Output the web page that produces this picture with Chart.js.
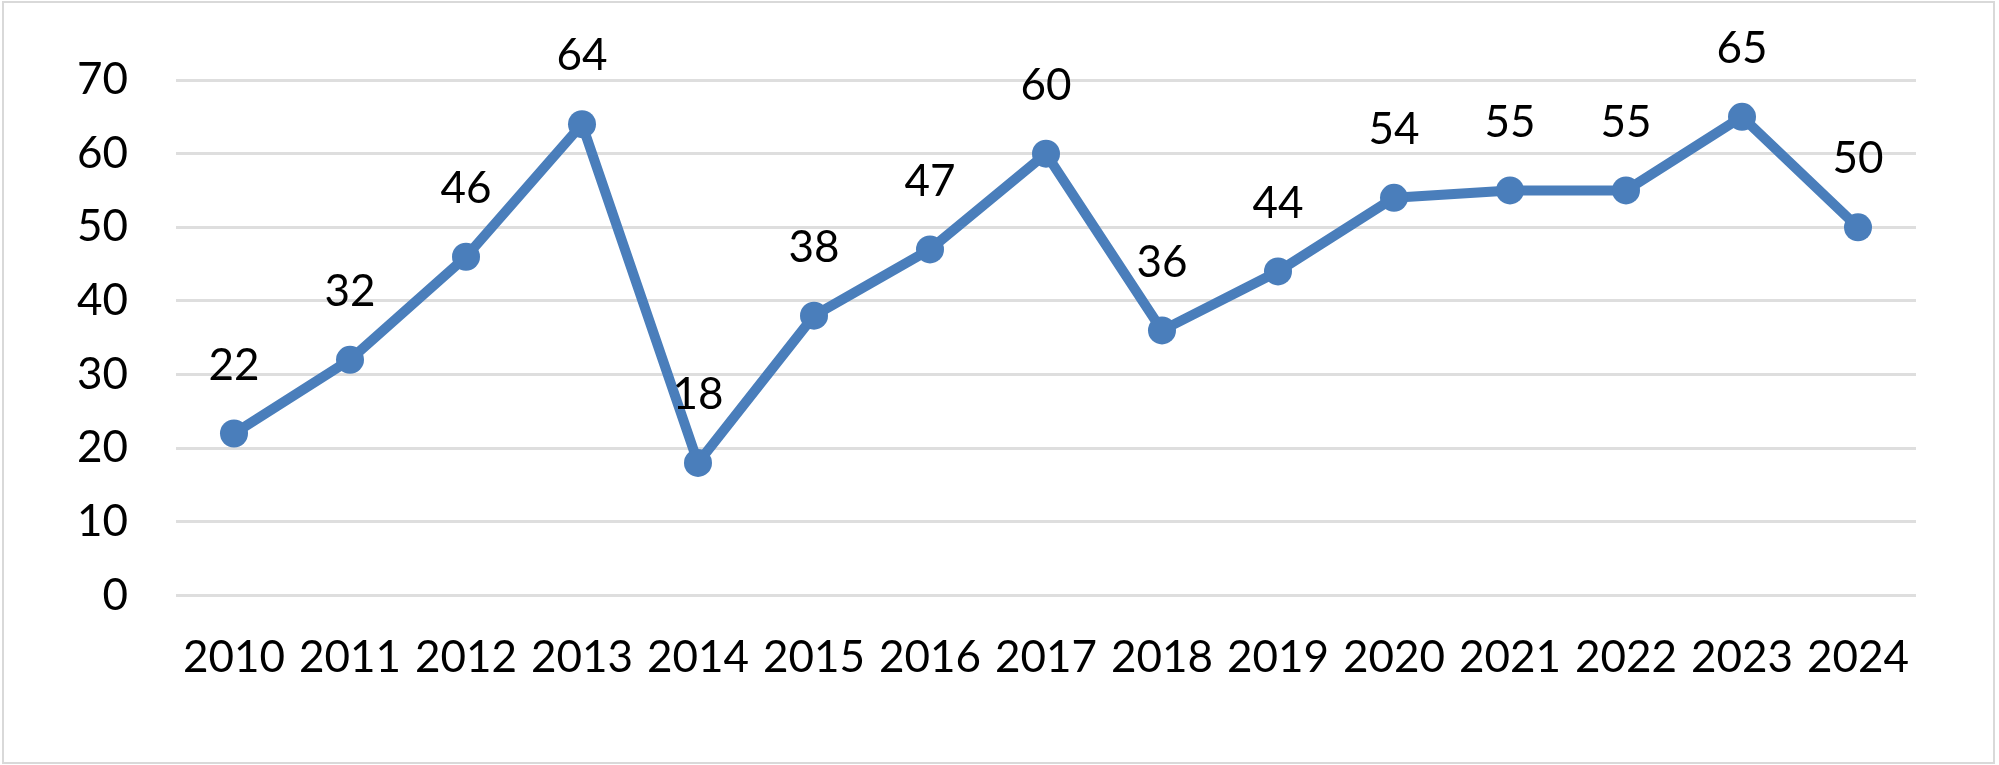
<!DOCTYPE html>
<html>
<head>
<meta charset="utf-8">
<script src="https://cdn.jsdelivr.net/npm/chart.js@4.4.1/dist/chart.umd.min.js"></script>
<style>
  html, body { margin: 0; padding: 0; background: #ffffff; }
  #wrap { width: 1999px; height: 765px; position: relative; }
  canvas { display: block; }
</style>
</head>
<body>
<div id="wrap"><canvas id="c" width="1999" height="765"></canvas></div>
<script>
const categories = ['2010','2011','2012','2013','2014','2015','2016','2017','2018','2019','2020','2021','2022','2023','2024'];
const values = [22, 32, 46, 64, 18, 38, 47, 60, 36, 44, 54, 55, 55, 65, 50];
const yTicks = [0, 10, 20, 30, 40, 50, 60, 70];

const FONT = 'Lato, "Open Sans", sans-serif';
const FONT_SIZE = 44;
const BLUE = '#4a7ebb';

const frame = {
  id: 'frame',
  beforeDraw(chart) {
    const ctx = chart.ctx;
    ctx.save();
    ctx.fillStyle = '#ffffff';
    ctx.fillRect(0, 0, chart.width, chart.height);
    ctx.strokeStyle = '#d9d9d9';
    ctx.lineWidth = 2;
    ctx.strokeRect(3, 2, 1991, 761);
    ctx.restore();
  }
};

const valueLabels = {
  id: 'valueLabels',
  afterDatasetsDraw(chart) {
    const ctx = chart.ctx;
    const meta = chart.getDatasetMeta(0);
    const data = chart.data.datasets[0].data;
    ctx.save();
    ctx.font = FONT_SIZE + 'px ' + FONT;
    ctx.fillStyle = '#000000';
    ctx.textAlign = 'center';
    ctx.textBaseline = 'middle';
    meta.data.forEach((pt, i) => {
      ctx.fillText(String(data[i]), pt.x, pt.y - 68);
    });
    ctx.restore();
  }
};

new Chart(document.getElementById('c'), {
  type: 'line',
  data: {
    labels: categories,
    datasets: [{
      data: values,
      borderColor: BLUE,
      backgroundColor: BLUE,
      borderWidth: 10,
      borderJoinStyle: 'round',
      borderCapStyle: 'round',
      pointRadius: 14,
      pointHoverRadius: 14,
      pointBackgroundColor: BLUE,
      pointBorderWidth: 0,
      tension: 0,
      fill: false
    }]
  },
  options: {
    responsive: false,
    animation: false,
    devicePixelRatio: 1,
    layout: { padding: { left: 0, right: 83, top: 80, bottom: 0 } },
    plugins: {
      legend: { display: false },
      tooltip: { enabled: false },
      title: { display: false }
    },
    scales: {
      x: {
        type: 'category',
        offset: true,
        grid: { display: false, drawTicks: false },
        border: { display: false },
        ticks: {
          color: '#000000',
          font: { family: FONT, size: FONT_SIZE },
          padding: 36,
          maxRotation: 0,
          autoSkip: false
        },
        afterFit(scale) { scale.height = 169.5; }
      },
      y: {
        min: 0,
        max: 70,
        afterBuildTicks(scale) { scale.ticks = yTicks.map(v => ({ value: v })); },
        grid: { color: '#dedede', lineWidth: 3, drawTicks: false },
        border: { display: false },
        ticks: {
          color: '#000000',
          font: { family: FONT, size: FONT_SIZE },
          padding: 48
        },
        afterFit(scale) { scale.width = 176; }
      }
    }
  },
  plugins: [frame, valueLabels]
});
</script>
</body>
</html>
